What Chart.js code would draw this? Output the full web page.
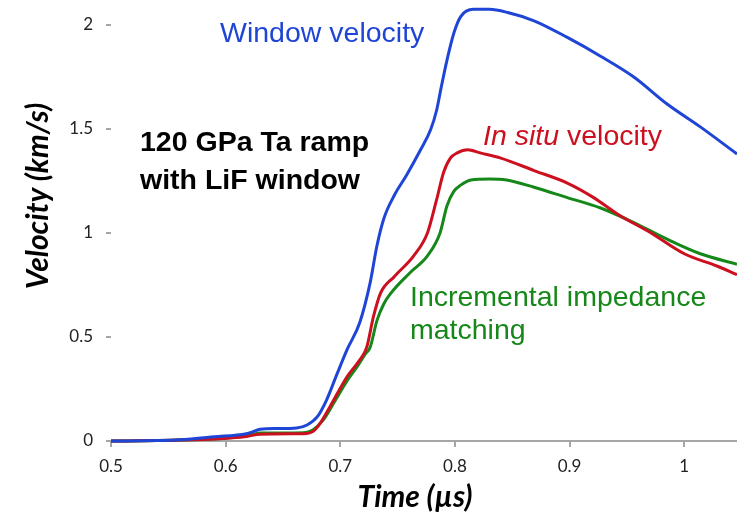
<!DOCTYPE html>
<html>
<head>
<meta charset="utf-8">
<title>Ta ramp velocities</title>
<script src="https://cdn.jsdelivr.net/npm/chart.js@4/dist/chart.umd.min.js"></script>
<style>
  html, body { margin: 0; padding: 0; background: #fff; }
  #wrap { position: relative; width: 737px; height: 518px; }
</style>
</head>
<body>
<div id="wrap"><canvas id="chart" width="737" height="518"></canvas></div>
<script>
// Axis ticks
const timeTicks = [0.5, 0.6, 0.7, 0.8, 0.9, 1.0];
const velocityTicks = [0, 0.5, 1, 1.5, 2];

// Window velocity (km/s) vs time (us)
const windowTime = [0.50, 0.54, 0.56, 0.59, 0.618, 0.624, 0.630, 0.645, 0.662, 0.671, 0.680, 0.688, 0.697, 0.706, 0.717, 0.726, 0.732, 0.738, 0.747, 0.758, 0.770, 0.779, 0.784, 0.788, 0.793, 0.799, 0.805, 0.816, 0.830, 0.846, 0.869, 0.898, 0.927, 0.956, 0.985, 1.014, 1.046];
const windowVel  = [0.00, 0.002, 0.006, 0.02, 0.035, 0.045, 0.057, 0.06, 0.063, 0.077, 0.117, 0.197, 0.32, 0.44, 0.57, 0.76, 0.94, 1.07, 1.18, 1.28, 1.40, 1.50, 1.59, 1.70, 1.83, 1.96, 2.04, 2.075, 2.075, 2.06, 2.02, 1.94, 1.85, 1.75, 1.62, 1.51, 1.38];

// In situ velocity
const inSituTime = [0.50, 0.54, 0.56, 0.59, 0.618, 0.630, 0.665, 0.670, 0.676, 0.683, 0.691, 0.706, 0.717, 0.723, 0.729, 0.735, 0.747, 0.764, 0.776, 0.784, 0.790, 0.796, 0.802, 0.811, 0.822, 0.840, 0.869, 0.898, 0.921, 0.942, 0.971, 1.000, 1.029, 1.046];
const inSituVel  = [0.00, 0.002, 0.005, 0.01, 0.022, 0.033, 0.035, 0.036, 0.045, 0.09, 0.165, 0.31, 0.39, 0.45, 0.60, 0.71, 0.79, 0.89, 1.00, 1.16, 1.29, 1.36, 1.385, 1.40, 1.385, 1.36, 1.30, 1.24, 1.17, 1.09, 1.00, 0.90, 0.84, 0.80];

// Incremental impedance matching
const impedTime = [0.50, 0.54, 0.56, 0.59, 0.618, 0.630, 0.668, 0.676, 0.685, 0.694, 0.706, 0.715, 0.722, 0.726, 0.732, 0.738, 0.744, 0.761, 0.776, 0.787, 0.793, 0.799, 0.805, 0.814, 0.830, 0.845, 0.869, 0.898, 0.927, 0.956, 0.985, 1.014, 1.046];
const impedVel  = [0.00, 0.002, 0.005, 0.01, 0.024, 0.038, 0.04, 0.053, 0.10, 0.18, 0.29, 0.36, 0.42, 0.45, 0.58, 0.66, 0.71, 0.81, 0.89, 1.00, 1.13, 1.20, 1.23, 1.255, 1.26, 1.255, 1.22, 1.17, 1.12, 1.05, 0.97, 0.90, 0.85];

const BLUE = '#1f45d6';
const RED = '#cc1020';
const GREEN = '#16881a';
const LABEL_FONT = '"Liberation Sans", Arial, sans-serif';
const AXIS_FONT = 'Lato, "Open Sans", sans-serif';

function toPoints(xs, ys) {
  return xs.map((x, i) => ({ x: x, y: ys[i] }));
}

function series(label, xs, ys, color) {
  return {
    label: label,
    data: toPoints(xs, ys),
    borderColor: color,
    backgroundColor: color,
    borderWidth: 3,
    pointRadius: 0,
    fill: false,
    clip: false,
    cubicInterpolationMode: 'monotone'
  };
}

// Axis titles and text labels next to the curves
const curveLabels = {
  id: 'curveLabels',
  afterDatasetsDraw(chart) {
    const ctx = chart.ctx;
    ctx.save();
    ctx.textBaseline = 'middle';
    ctx.textAlign = 'center';
    ctx.fillStyle = '#000';

    // axis titles
    ctx.font = 'italic bold 30px ' + AXIS_FONT;
    ctx.fillText('Time (\u00b5s)', 415, 497);
    ctx.save();
    ctx.translate(38, 196);
    ctx.rotate(-Math.PI / 2);
    ctx.fillText('Velocity (km/s)', 0, 0);
    ctx.restore();

    ctx.textAlign = 'left';
    ctx.fillStyle = BLUE;
    ctx.font = '28.5px ' + LABEL_FONT;
    ctx.fillText('Window velocity', 220, 34);

    ctx.fillStyle = '#000';
    ctx.font = 'bold 28.5px ' + LABEL_FONT;
    ctx.fillText('120 GPa Ta ramp', 140, 143);
    ctx.fillText('with LiF window', 140, 181);

    ctx.fillStyle = RED;
    ctx.font = 'italic 28.5px ' + LABEL_FONT;
    ctx.fillText('In situ', 483, 137);
    const w = ctx.measureText('In situ ').width;
    ctx.font = '28.5px ' + LABEL_FONT;
    ctx.fillText('velocity', 483 + w, 137);

    ctx.fillStyle = GREEN;
    ctx.fillText('Incremental impedance', 410, 298);
    ctx.fillText('matching', 410, 331);
    ctx.restore();
  }
};

Chart.defaults.font.family = AXIS_FONT;

new Chart(document.getElementById('chart'), {
  type: 'line',
  data: {
    datasets: [
      series('Window velocity', windowTime, windowVel, BLUE),
      series('In situ velocity', inSituTime, inSituVel, RED),
      series('Incremental impedance matching', impedTime, impedVel, GREEN)
    ]
  },
  options: {
    responsive: false,
    animation: false,
    layout: { padding: 0 },
    plugins: {
      legend: { display: false },
      tooltip: { enabled: false }
    },
    scales: {
      x: {
        type: 'linear',
        min: 0.5,
        max: 1.046,
        afterBuildTicks: (scale) => { scale.ticks = timeTicks.map(v => ({ value: v })); },
        afterFit: (scale) => {
          scale.height = 77;
          scale.paddingLeft = 0;
          scale.paddingRight = 0;
        },
        border: { color: '#a6a6a6', width: 2 },
        grid: { drawOnChartArea: false, drawTicks: true, tickLength: 6, color: '#a6a6a6', lineWidth: 2 },
        ticks: {
          color: '#222',
          padding: 9,
          font: { size: 17 },
          callback: (v) => String(Math.round(v * 10) / 10)
        }
      },
      y: {
        min: 0,
        max: 2.12,
        afterBuildTicks: (scale) => { scale.ticks = velocityTicks.map(v => ({ value: v })); },
        afterFit: (scale) => {
          scale.width = 111;
          scale.paddingTop = 0;
          scale.paddingBottom = 0;
        },
        border: { display: false },
        grid: { drawOnChartArea: false, drawTicks: true, tickLength: 5, color: '#a6a6a6', lineWidth: 2 },
        ticks: {
          color: '#222',
          padding: 13,
          font: { size: 17 },
          callback: (v) => String(v)
        }
      }
    }
  },
  plugins: [curveLabels]
});
</script>
</body>
</html>
